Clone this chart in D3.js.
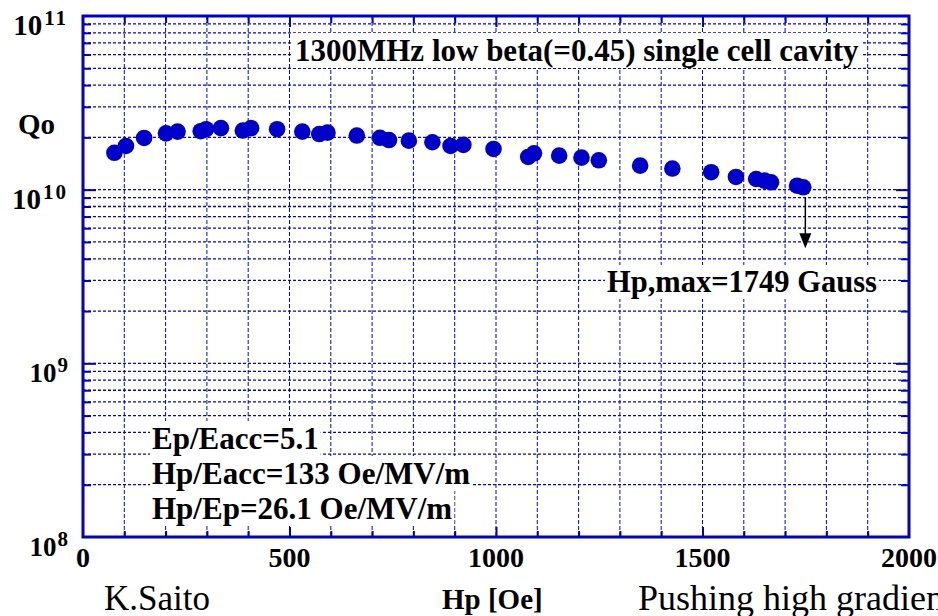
<!DOCTYPE html>
<html><head><meta charset="utf-8">
<script src="https://cdn.jsdelivr.net/npm/d3@7"></script>
<style>html,body{margin:0;padding:0;background:#fff;overflow:hidden}svg{display:block}</style>
</head><body>
<script>
// ---- data ----
const hp = [76,104,148,201,229,285,298,334,387,407,470,531,572,592,663,719,741,789,846,890,921,994,1078,1092,1153,1207,1249,1349,1427,1521,1581,1630,1650,1666,1729,1744];
const qo = [1.63e10,1.785e10,1.985e10,2.11e10,2.16e10,2.17e10,2.23e10,2.26e10,2.19e10,2.26e10,2.23e10,2.16e10,2.09e10,2.13e10,2.05e10,1.99e10,1.93e10,1.915e10,1.875e10,1.785e10,1.81e10,1.715e10,1.543e10,1.62e10,1.57e10,1.53e10,1.476e10,1.375e10,1.323e10,1.26e10,1.183e10,1.152e10,1.127e10,1.103e10,1.054e10,1.032e10];
const xTickLabels = [0,500,1000,1500,2000];
const yDecades = [8,9,10,11];
const arrowHp = 1749;
const arrowQ = [1.0e10, 4.6e9];
const titleText = "1300MHz low beta(=0.45) single cell cavity";
const maxText = "Hp,max=1749 Gauss";
const paramLines = ["Ep/Eacc=5.1","Hp/Eacc=133 Oe/MV/m","Hp/Ep=26.1 Oe/MV/m"];

const W = 938, H = 616;
const L = 83, R = 909, T = 16, B = 537;
const blue = "#0000cc", gridBlue = "#0000ee";
const serif = "'Liberation Serif','Times New Roman',serif";

const x = d3.scaleLinear().domain([0,2000]).range([L,R]);
const y = d3.scaleLog().domain([1e8,1e11]).range([B,T]);

const svg = d3.select("body").append("svg").attr("width",W).attr("height",H);

const xMinor = d3.range(100,2000,100);
const yMinor = [];
for (let k=8;k<11;k++) for (let m=2;m<=9;m++) yMinor.push(m*Math.pow(10,k));
const yGrid = yMinor.concat([1e9,1e10]);

// grid
svg.append("g").selectAll("line").data(xMinor).join("line")
  .attr("x1",d=>x(d)).attr("x2",d=>x(d)).attr("y1",T).attr("y2",B)
  .attr("stroke",gridBlue).attr("stroke-width",1).attr("stroke-dasharray","4,2");
svg.append("g").selectAll("line").data(yGrid).join("line")
  .attr("x1",L).attr("x2",R).attr("y1",d=>y(d)).attr("y2",d=>y(d))
  .attr("stroke",gridBlue).attr("stroke-width",1.3).attr("stroke-dasharray","3,2");

function boxedText(str, xx, yy, size){
  const g = svg.append("g");
  const r = g.append("rect").attr("fill","#fff");
  const t = g.append("text").attr("x",xx).attr("y",yy).text(str)
    .attr("font-family",serif).attr("font-weight","bold").attr("font-size",size).attr("fill","#000");
  const bb = t.node().getBBox();
  r.attr("x",bb.x-2).attr("y",bb.y).attr("width",bb.width+4).attr("height",bb.height);
  return t;
}
boxedText(titleText, 295, 61, 31);
boxedText(maxText, 607, 292, 30.5);
const lineY = [449,484,519];
paramLines.forEach((s,i)=>boxedText(s, 152, lineY[i], 31));

// points
svg.append("g").selectAll("circle").data(hp.map((h,i)=>[h,qo[i]])).join("circle")
  .attr("cx",d=>x(d[0])).attr("cy",d=>y(d[1])).attr("r",8.3).attr("fill",blue);

// arrow
const ax = x(arrowHp), ay1 = y(arrowQ[0])+8, ay2 = y(arrowQ[1]);
svg.append("line").attr("x1",ax).attr("x2",ax).attr("y1",ay1).attr("y2",ay2-12)
  .attr("stroke","#000").attr("stroke-width",1.5);
svg.append("path").attr("d",`M${ax-6},${ay2-15}L${ax+6},${ay2-15}L${ax},${ay2}Z`).attr("fill","#000");

// axes ticks via d3.axis
function styleAxis(g){ g.select(".domain").remove(); g.selectAll("line").attr("stroke",blue).attr("stroke-width",2); g.selectAll("text").remove(); }
svg.append("g").attr("transform",`translate(0,${B})`).call(d3.axisBottom(x).tickValues(xMinor.filter(d=>d%500)).tickSize(-6)).call(styleAxis);
svg.append("g").attr("transform",`translate(0,${B})`).call(d3.axisBottom(x).tickValues([500,1000,1500]).tickSize(-10)).call(styleAxis);
svg.append("g").attr("transform",`translate(0,${T})`).call(d3.axisTop(x).tickValues(xMinor.filter(d=>d%500)).tickSize(-7)).call(styleAxis);
svg.append("g").attr("transform",`translate(0,${T})`).call(d3.axisTop(x).tickValues([500,1000,1500]).tickSize(-11)).call(styleAxis);
svg.append("g").attr("transform",`translate(${L},0)`).call(d3.axisLeft(y).tickValues(yMinor).tickSize(-8)).call(styleAxis);
svg.append("g").attr("transform",`translate(${L},0)`).call(d3.axisLeft(y).tickValues([1e9,1e10]).tickSize(-13)).call(styleAxis);
svg.append("g").attr("transform",`translate(${R},0)`).call(d3.axisRight(y).tickValues(yMinor).tickSize(-8)).call(styleAxis);
svg.append("g").attr("transform",`translate(${R},0)`).call(d3.axisRight(y).tickValues([1e9,1e10]).tickSize(-13)).call(styleAxis);

// frame
svg.append("rect").attr("x",L).attr("y",T).attr("width",R-L).attr("height",B-T)
  .attr("fill","none").attr("stroke",blue).attr("stroke-width",3);

// x tick labels
svg.append("g").selectAll("text").data(xTickLabels).join("text")
  .attr("x",d=>x(d)).attr("y",567).attr("text-anchor","middle").text(d=>d)
  .attr("font-family",serif).attr("font-weight","bold").attr("font-size",28);

// y tick labels
const yl = svg.append("g").selectAll("text").data(yDecades).join("text")
  .attr("x",68).attr("y",d=>y(Math.pow(10,d))+19).attr("text-anchor","end")
  .attr("font-family",serif).attr("font-weight","bold");
yl.append("tspan").attr("font-size",d=>d>9?29:27).text("10");
yl.append("tspan").attr("font-size",21).attr("dy",-10).attr("dx",d=>d>9?2:1).attr("letter-spacing",d=>d>9?2:0).text(d=>d);

// axis titles
svg.append("text").attr("x",18).attr("y",134).text("Qo")
  .attr("font-family",serif).attr("font-weight","bold").attr("font-size",29);
svg.append("text").attr("x",442).attr("y",609).text("Hp [Oe]")
  .attr("font-family",serif).attr("font-weight","bold").attr("font-size",29);
svg.append("text").attr("x",104).attr("y",610).text("K.Saito")
  .attr("font-family",serif).attr("font-size",35);
svg.append("text").attr("x",638).attr("y",610).text("Pushing high gradient")
  .attr("font-family",serif).attr("font-size",36);
</script>
</body></html>
